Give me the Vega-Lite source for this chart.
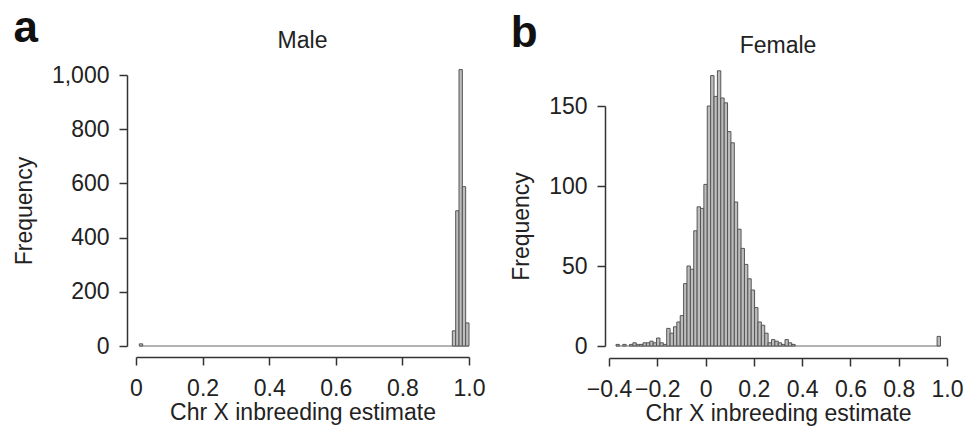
{
  "$schema": "https://vega.github.io/schema/vega-lite/v6.json",
  "padding": {"left": 13, "top": 7, "right": 5, "bottom": 5},
  "datasets": {
    "male": [
      {"start": 0.01, "end": 0.02, "count": 8},
      {"start": 0.95, "end": 0.96, "count": 56},
      {"start": 0.96, "end": 0.97, "count": 499},
      {"start": 0.97, "end": 0.98, "count": 1020},
      {"start": 0.98, "end": 0.99, "count": 588},
      {"start": 0.99, "end": 1.0, "count": 85}
    ],
    "female": [
      {"start": -0.371, "end": -0.357, "count": 1},
      {"start": -0.343, "end": -0.329, "count": 1},
      {"start": -0.315, "end": -0.301, "count": 1},
      {"start": -0.301, "end": -0.287, "count": 2},
      {"start": -0.287, "end": -0.273, "count": 1},
      {"start": -0.273, "end": -0.259, "count": 1},
      {"start": -0.259, "end": -0.245, "count": 2},
      {"start": -0.245, "end": -0.231, "count": 2},
      {"start": -0.231, "end": -0.217, "count": 3},
      {"start": -0.217, "end": -0.203, "count": 2},
      {"start": -0.203, "end": -0.189, "count": 5},
      {"start": -0.189, "end": -0.175, "count": 2},
      {"start": -0.175, "end": -0.161, "count": 1},
      {"start": -0.161, "end": -0.147, "count": 11},
      {"start": -0.147, "end": -0.133, "count": 8},
      {"start": -0.133, "end": -0.119, "count": 12},
      {"start": -0.119, "end": -0.105, "count": 15},
      {"start": -0.105, "end": -0.091, "count": 19},
      {"start": -0.091, "end": -0.077, "count": 39},
      {"start": -0.077, "end": -0.063, "count": 50},
      {"start": -0.063, "end": -0.049, "count": 48},
      {"start": -0.049, "end": -0.035, "count": 72},
      {"start": -0.035, "end": -0.021, "count": 87},
      {"start": -0.021, "end": -0.007, "count": 86},
      {"start": -0.007, "end": 0.007, "count": 101},
      {"start": 0.007, "end": 0.021, "count": 150},
      {"start": 0.021, "end": 0.035, "count": 169},
      {"start": 0.035, "end": 0.049, "count": 156},
      {"start": 0.049, "end": 0.063, "count": 172},
      {"start": 0.063, "end": 0.077, "count": 155},
      {"start": 0.077, "end": 0.091, "count": 152},
      {"start": 0.091, "end": 0.105, "count": 134},
      {"start": 0.105, "end": 0.119, "count": 127},
      {"start": 0.119, "end": 0.133, "count": 90},
      {"start": 0.133, "end": 0.147, "count": 73},
      {"start": 0.147, "end": 0.161, "count": 61},
      {"start": 0.161, "end": 0.175, "count": 51},
      {"start": 0.175, "end": 0.189, "count": 42},
      {"start": 0.189, "end": 0.203, "count": 35},
      {"start": 0.203, "end": 0.217, "count": 24},
      {"start": 0.217, "end": 0.231, "count": 15},
      {"start": 0.231, "end": 0.245, "count": 13},
      {"start": 0.245, "end": 0.259, "count": 8},
      {"start": 0.259, "end": 0.273, "count": 2},
      {"start": 0.273, "end": 0.287, "count": 4},
      {"start": 0.287, "end": 0.301, "count": 3},
      {"start": 0.301, "end": 0.315, "count": 2},
      {"start": 0.315, "end": 0.329, "count": 1},
      {"start": 0.329, "end": 0.343, "count": 4},
      {"start": 0.343, "end": 0.357, "count": 2},
      {"start": 0.357, "end": 0.371, "count": 1},
      {"start": 0.959, "end": 0.973, "count": 6}
    ]
  },
  "hconcat": [
    {
      "title": {"text": "a", "anchor": "start", "frame": "bounds", "fontSize": 44, "fontWeight": "bold", "color": "#111", "offset": -21},
      "hconcat": [
        {
          "width": 333,
          "height": 277,
          "title": {"text": "Male", "frame": "group", "anchor": "middle", "fontSize": 23, "fontWeight": "normal", "color": "#222", "offset": 11},
          "data": {"name": "male"},
          "layer": [
            {
              "mark": {"type": "rule", "color": "#9a9a9a", "strokeWidth": 1.5},
              "encoding": {
                "x": {"aggregate": "min", "field": "start", "type": "quantitative", "title": "Chr X inbreeding estimate"},
                "x2": {"aggregate": "max", "field": "end"},
                "y": {"datum": 0, "type": "quantitative", "title": "Frequency"}
              }
            },
            {
              "mark": {"type": "rect", "fill": "#bdbdbd", "stroke": "#555", "strokeWidth": 1},
              "encoding": {
                "x": {"field": "start", "type": "quantitative", "title": "Chr X inbreeding estimate",
                  "scale": {"domain": [0, 1], "nice": false, "zero": false},
                  "axis": {"values": [0, 0.2, 0.4, 0.6, 0.8, 1], "labelExpr": "datum.value == 0 ? '0' : format(datum.value, '.1f')", "offset": 11, "labelPadding": 12, "titlePadding": 1}},
                "x2": {"field": "end"},
                "y": {"field": "count", "type": "quantitative", "title": "Frequency",
                  "scale": {"domain": [0, 1000], "range": [277, 6], "nice": false},
                  "axis": {"values": [0, 200, 400, 600, 800, 1000], "labelExpr": "format(datum.value, ',.0f')", "offset": 9}},
                "y2": {"datum": 0}
              }
            }
          ]
        }
      ]
    },
    {
      "title": {"text": "b", "anchor": "start", "frame": "bounds", "fontSize": 44, "fontWeight": "bold", "color": "#111", "offset": -21},
      "hconcat": [
        {
          "width": 338,
          "height": 277,
          "title": {"text": "Female", "frame": "group", "anchor": "middle", "fontSize": 23, "fontWeight": "normal", "color": "#222", "offset": 11},
          "data": {"name": "female"},
          "layer": [
            {
              "mark": {"type": "rule", "color": "#9a9a9a", "strokeWidth": 1.5},
              "encoding": {
                "x": {"aggregate": "min", "field": "start", "type": "quantitative", "title": "Chr X inbreeding estimate"},
                "x2": {"aggregate": "max", "field": "end"},
                "y": {"datum": 0, "type": "quantitative", "title": "Frequency"}
              }
            },
            {
              "mark": {"type": "rect", "fill": "#bdbdbd", "stroke": "#555", "strokeWidth": 1},
              "encoding": {
                "x": {"field": "start", "type": "quantitative", "title": "Chr X inbreeding estimate",
                  "scale": {"domain": [-0.4, 1], "nice": false, "zero": false},
                  "axis": {"values": [-0.4, -0.2, 0, 0.2, 0.4, 0.6, 0.8, 1], "labelExpr": "datum.value == 0 ? '0' : format(datum.value, '.1f')", "offset": 12, "labelPadding": 12, "titlePadding": 1}},
                "x2": {"field": "end"},
                "y": {"field": "count", "type": "quantitative", "title": "Frequency",
                  "scale": {"domain": [0, 150], "range": [277, 37], "nice": false},
                  "axis": {"values": [0, 50, 100, 150], "offset": 4}},
                "y2": {"datum": 0}
              }
            }
          ]
        }
      ]
    }
  ],
  "spacing": 25,
  "config": {
    "font": "Liberation Sans",
    "view": {"stroke": null},
    "axis": {
      "grid": false,
      "domainColor": "#333",
      "domainWidth": 1.5,
      "tickColor": "#333",
      "tickWidth": 1.5,
      "tickSize": 8,
      "labelFontSize": 23,
      "labelColor": "#222",
      "labelPadding": 10,
      "titleFontSize": 23,
      "titleFontWeight": "normal",
      "titleColor": "#222",
      "titlePadding": 15,
      "labelFlush": false,
      "labelOverlap": false,
      "labelBound": false
    }
  }
}
